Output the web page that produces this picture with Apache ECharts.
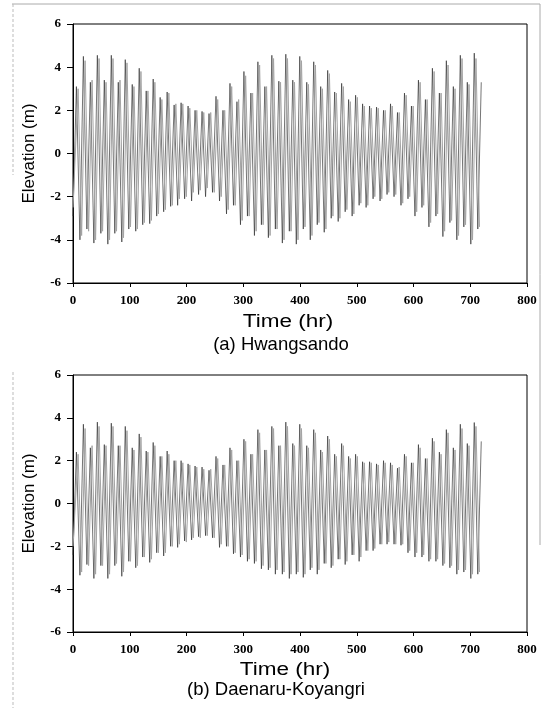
<!DOCTYPE html>
<html><head><meta charset="utf-8">
<script src="https://cdn.jsdelivr.net/npm/echarts@6/dist/echarts.min.js"></script>
<style>html,body{margin:0;padding:0;background:#fff}#c{width:549px;height:708px}</style>
</head><body><div id="c"></div>
<script>
// ---- data ----
const xMin = 0, xMax = 800, xStep = 100;
const yMin = -6, yMax = 6, yStep = 2;
const panelTitles = ['(a) Hwangsando', '(b) Daenaru-Koyangri'];
const xName = 'Time (hr)';
const yName = 'Elevation (m)';

// times (hr) of high and low waters, observed (black)
const highTimes = [6.0,18.3,30.6,42.9,55.2,67.5,79.8,92.1,104.4,116.7,129.0,141.3,153.6,165.9,178.2,190.5,202.8,215.1,227.4,239.7,252.0,264.3,276.6,288.9,301.2,313.5,325.8,338.1,350.4,362.7,375.0,387.3,399.6,411.9,424.2,436.5,448.8,461.1,473.4,485.7,498.0,510.3,522.6,534.9,547.2,559.5,571.8,584.1,596.4,608.7,621.0,633.3,645.6,657.9,670.2,682.5,694.8,707.1,719.4];
const lowTimes = [12.2,24.5,36.8,49.1,61.4,73.7,86.0,98.3,110.6,122.9,135.2,147.5,159.8,172.1,184.4,196.7,209.0,221.3,233.6,245.9,258.2,270.5,282.8,295.1,307.4,319.7,332.0,344.3,356.6,368.9,381.2,393.5,405.8,418.1,430.4,442.7,455.0,467.3,479.6,491.9,504.2,516.5,528.8,541.1,553.4,565.7,578.0,590.3,602.6,614.9,627.2,639.5,651.8,664.1,676.4,688.7,701.0,713.3];
// times of high and low waters, computed (gray)
const grayHighTimes = [9.0,21.3,33.6,45.9,58.2,70.5,82.8,95.1,107.4,119.7,132.0,144.3,156.6,168.9,181.2,193.5,205.8,218.1,230.4,242.7,255.0,267.3,279.6,291.9,304.2,316.5,328.8,341.1,353.4,365.7,378.0,390.3,402.6,414.9,427.2,439.5,451.8,464.1,476.4,488.7,501.0,513.3,525.6,537.9,550.2,562.5,574.8,587.1,599.4,611.7,624.0,636.3,648.6,660.9,673.2,685.5,697.8,710.1];
const grayLowTimes = [15.2,27.5,39.8,52.1,64.4,76.7,89.0,101.3,113.6,125.9,138.2,150.5,162.8,175.1,187.4,199.7,212.0,224.3,236.6,248.9,261.2,273.5,285.8,298.1,310.4,322.7,335.0,347.3,359.6,371.9,384.2,396.5,408.8,421.1,433.4,445.7,458.0,470.3,482.6,494.9,507.2,519.5,531.8,544.1,556.4,568.7,581.0,593.3,605.6,617.9,630.2,642.5,654.8,667.1,679.4,691.7,704.0,716.3];

// (a) Hwangsando
const aStart = -2.9, aGrayStart = -2.5;
const aHigh = [3.1,4.5,3.3,4.55,3.4,4.55,3.3,4.35,3.2,3.95,2.9,3.45,2.6,2.85,2.25,2.35,2.2,2.0,1.95,1.85,2.65,2.0,3.25,2.4,3.8,2.8,4.25,3.1,4.55,3.35,4.6,3.4,4.5,3.3,4.25,3.1,3.85,2.85,3.25,2.5,2.7,2.3,2.2,2.15,2.0,2.3,1.9,2.8,2.2,3.4,2.5,3.95,2.8,4.3,3.1,4.55,3.3,4.65,3.3];
const aLow = [-4.0,-3.5,-4.15,-3.7,-4.2,-3.7,-4.1,-3.5,-3.6,-3.3,-3.25,-2.9,-2.7,-2.45,-2.4,-2.1,-2.2,-1.9,-2.0,-1.8,-2.2,-2.8,-2.4,-3.3,-2.9,-3.8,-3.3,-3.9,-3.5,-4.15,-3.6,-4.2,-3.5,-4.0,-3.3,-3.65,-3.0,-3.15,-2.7,-2.9,-2.4,-2.5,-2.1,-2.2,-1.9,-2.0,-2.4,-2.1,-2.9,-2.5,-3.4,-2.9,-3.85,-3.2,-4.0,-3.4,-4.2,-3.5];
const aGrayHigh = [3.0,4.3,3.4,4.4,3.3,4.4,3.4,4.2,3.1,3.8,2.9,3.3,2.5,2.8,2.3,2.3,2.1,2.0,1.9,1.9,2.5,2.0,3.1,2.5,3.6,2.8,4.1,3.1,4.4,3.3,4.4,3.3,4.3,3.2,4.1,3.0,3.7,2.8,3.1,2.4,2.6,2.2,2.1,2.1,2.0,2.2,1.9,2.7,2.2,3.3,2.5,3.8,2.8,4.1,3.0,4.4,3.2,4.4];
const aGrayLow = [-3.8,-3.6,-4.0,-3.6,-4.0,-3.6,-3.9,-3.4,-3.5,-3.2,-3.1,-2.8,-2.6,-2.4,-2.1,-2.0,-1.8,-1.7,-1.6,-1.8,-2.0,-2.6,-2.4,-3.1,-2.9,-3.6,-3.3,-3.8,-3.5,-4.0,-3.6,-4.0,-3.4,-3.8,-3.2,-3.5,-2.9,-3.0,-2.6,-2.8,-2.3,-2.4,-2.0,-2.1,-1.8,-1.9,-2.3,-2.0,-2.7,-2.4,-3.2,-2.8,-3.6,-3.1,-3.8,-3.3,-4.0,-3.4];

// (b) Daenaru-Koyangri
const bStart = -2.4, bGrayStart = -2.0;
const bHigh = [2.4,3.7,2.6,3.8,2.75,3.75,2.7,3.6,2.6,3.25,2.45,2.85,2.2,2.45,2.0,2.0,1.85,1.75,1.7,1.55,2.2,1.8,2.6,2.0,3.0,2.3,3.45,2.5,3.6,2.7,3.8,2.8,3.7,2.7,3.45,2.5,3.15,2.3,2.8,2.2,2.3,1.95,1.95,1.85,2.0,1.9,1.65,2.3,1.9,2.75,2.1,3.05,2.4,3.45,2.6,3.7,2.8,3.78,2.9];
const bLow = [-3.35,-2.85,-3.5,-2.9,-3.5,-2.9,-3.4,-2.7,-3.0,-2.5,-2.75,-2.3,-2.45,-2.0,-2.05,-1.75,-1.7,-1.55,-1.5,-1.6,-2.05,-2.0,-2.35,-2.5,-2.7,-2.8,-3.05,-3.1,-3.3,-3.3,-3.5,-3.3,-3.45,-3.1,-3.3,-2.8,-3.0,-2.6,-2.85,-2.4,-2.7,-2.2,-2.2,-1.9,-1.9,-1.9,-1.95,-2.3,-2.5,-2.5,-2.7,-2.7,-2.9,-3.0,-3.3,-3.2,-3.5,-3.3];
const bGrayHigh = [2.3,3.5,2.7,3.6,2.7,3.6,2.7,3.4,2.5,3.1,2.4,2.7,2.2,2.3,2.0,1.9,1.8,1.7,1.6,1.6,2.1,1.8,2.5,2.0,2.9,2.3,3.3,2.5,3.5,2.7,3.6,2.7,3.5,2.6,3.3,2.4,3.0,2.2,2.7,2.1,2.2,1.9,1.9,1.8,1.9,1.8,1.7,2.2,1.9,2.6,2.1,2.9,2.3,3.3,2.5,3.5,2.7,3.6];
const bGrayLow = [-3.2,-2.9,-3.3,-2.9,-3.3,-2.8,-3.2,-2.7,-2.9,-2.5,-2.6,-2.3,-2.3,-2.0,-1.9,-1.8,-1.6,-1.6,-1.5,-1.6,-1.9,-2.0,-2.3,-2.4,-2.6,-2.7,-2.9,-3.0,-3.1,-3.2,-3.3,-3.2,-3.3,-3.0,-3.1,-2.8,-2.9,-2.6,-2.7,-2.4,-2.5,-2.2,-2.1,-1.9,-1.8,-1.9,-1.9,-2.2,-2.3,-2.4,-2.6,-2.6,-2.8,-2.9,-3.1,-3.1,-3.3,-3.2];

// ---- build ----
function build(startVal, hT, hV, lT, lV) {
  const out = [[0, startVal]];
  for (let i = 0; i < hT.length; i++) {
    out.push([hT[i], hV[i]]);
    if (i < lT.length) out.push([lT[i], lV[i]]);
  }
  return out;
}

const tickFont = { fontFamily: 'Liberation Serif', fontWeight: 'bold', fontSize: 13, color: '#000' };
const yNameFont = { fontFamily: 'Liberation Sans', fontSize: 17, color: '#000' };

function xAxisFor(i) {
  return {
    gridIndex: i, type: 'value', min: xMin, max: xMax, interval: xStep,
    axisLine: { show: true, onZero: false, lineStyle: { color: '#000', width: 1 } },
    axisTick: { show: true, length: 4, lineStyle: { color: '#000' } },
    axisLabel: Object.assign({ margin: 11 }, tickFont),
    splitLine: { show: false }
  };
}
function yAxisFor(i) {
  return {
    gridIndex: i, type: 'value', min: yMin, max: yMax, interval: yStep,
    name: yName, nameLocation: 'middle', nameGap: 35, nameTextStyle: yNameFont,
    axisLine: { show: true, onZero: false, lineStyle: { color: '#000', width: 1 } },
    axisTick: { show: true, length: 6, lineStyle: { color: '#000' } },
    axisLabel: Object.assign({ margin: 12 }, tickFont),
    splitLine: { show: false }
  };
}
function lineSeries(i, data, color, width, z) {
  return {
    type: 'line', xAxisIndex: i, yAxisIndex: i, data: data,
    showSymbol: false, symbol: 'none', silent: true,
    lineStyle: { color: color, width: width }, z: z
  };
}
function centeredText(txt, x, y, size, sx) {
  return { type: 'text', x: x, y: y, scaleX: sx, z: 10,
    style: { text: txt, font: size + 'px "Liberation Sans"', fill: '#000', textAlign: 'center', textVerticalAlign: 'middle' } };
}

const chart = echarts.init(document.getElementById('c'), null, { renderer: 'canvas' });
chart.setOption({
  animation: false,
  backgroundColor: '#fff',
  grid: [
    { left: 73, right: 22, top: 24, height: 259, show: true, borderColor: '#000', borderWidth: 1, backgroundColor: 'transparent' },
    { left: 73, right: 22, top: 375, height: 257, show: true, borderColor: '#000', borderWidth: 1, backgroundColor: 'transparent' }
  ],
  xAxis: [xAxisFor(0), xAxisFor(1)],
  yAxis: [yAxisFor(0), yAxisFor(1)],
  series: [
    lineSeries(0, build(aStart, highTimes, aHigh, lowTimes, aLow), '#2a2a2a', 0.65, 2),
    lineSeries(0, build(aGrayStart, grayHighTimes, aGrayHigh, grayLowTimes, aGrayLow), '#a4a4a4', 1.0, 3),
    lineSeries(1, build(bStart, highTimes, bHigh, lowTimes, bLow), '#2a2a2a', 0.65, 2),
    lineSeries(1, build(bGrayStart, grayHighTimes, bGrayHigh, grayLowTimes, bGrayLow), '#a4a4a4', 1.0, 3)
  ],
  graphic: [
    centeredText(xName, 288, 322, 18, 1.25),
    centeredText(panelTitles[0], 281, 345, 18.5, 1),
    centeredText(xName, 285, 670, 18, 1.25),
    centeredText(panelTitles[1], 276, 690, 18.5, 1),
    { type: 'line', shape: { x1: 12, y1: 4, x2: 540, y2: 4 }, style: { stroke: '#aaa', lineWidth: 1 } },
    { type: 'line', shape: { x1: 13, y1: 4, x2: 13, y2: 175 }, style: { stroke: '#bbb', lineWidth: 1, lineDash: [3, 2] } },
    { type: 'line', shape: { x1: 13, y1: 372, x2: 13, y2: 708 }, style: { stroke: '#bbb', lineWidth: 1, lineDash: [3, 2] } },
    { type: 'line', shape: { x1: 540, y1: 4, x2: 540, y2: 545 }, style: { stroke: '#aaa', lineWidth: 1 } }
  ]
});
</script>
</body></html>
